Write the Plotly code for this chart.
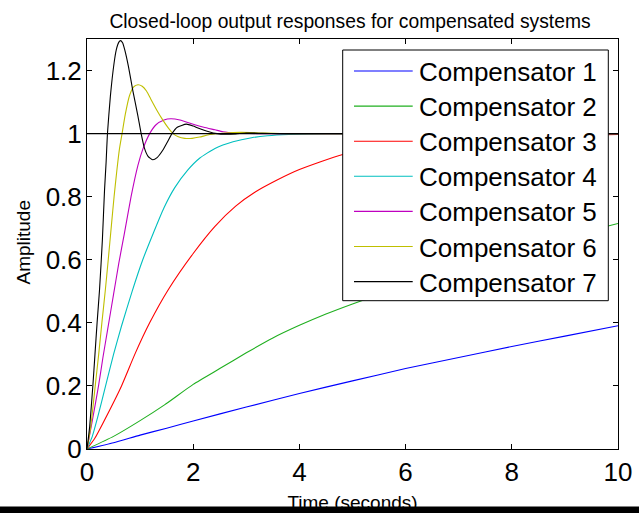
import plotly.graph_objects as go

# ---------------- data ----------------
x_ticks = [0, 2, 4, 6, 8, 10]
y_ticks = [0, 0.2, 0.4, 0.6, 0.8, 1.0, 1.2]
y_tick_labels = ["0", "0.2", "0.4", "0.6", "0.8", "1", "1.2"]

names = ["Compensator 1", "Compensator 2", "Compensator 3", "Compensator 4",
         "Compensator 5", "Compensator 6", "Compensator 7"]
colors = ["#0000FF", "#1FAF1F", "#FF0000", "#00BFBF", "#BF00BF", "#BFBF00", "#000000"]

t1 = [0, 0.5, 1, 1.5, 2, 3, 4, 5, 6, 7, 8, 9, 10]
y1 = [0, 0.02, 0.044, 0.066, 0.089, 0.133, 0.176, 0.216, 0.255, 0.29, 0.325, 0.358, 0.391]

t2 = [0, 0.5, 1, 1.46, 2, 2.5, 3, 3.5, 4, 4.5, 5, 5.5, 6, 7, 8, 9, 10]
y2 = [0, 0.04, 0.09, 0.14, 0.205, 0.255, 0.305, 0.352, 0.392, 0.428, 0.46, 0.49, 0.52, 0.575, 0.625, 0.672, 0.715]

t3 = [0, 0.15, 0.3, 0.65, 0.9, 1.18, 1.53, 2.0, 2.41, 2.8, 3.16, 3.57, 4.0, 4.8, 6, 8, 10]
y3 = [0, 0.035, 0.082, 0.2, 0.3, 0.4, 0.505, 0.62, 0.706, 0.77, 0.814, 0.852, 0.886, 0.933, 0.97, 0.99, 0.997]

t4 = [0, 0.1, 0.2, 0.35, 0.5, 0.65, 0.85, 1.05, 1.25, 1.45, 1.65, 1.9, 2.12, 2.41, 2.75, 3.1, 3.4, 3.8, 4.5, 10]
y4 = [0, 0.04, 0.1, 0.2, 0.3, 0.39, 0.5, 0.6, 0.685, 0.765, 0.828, 0.885, 0.922, 0.953, 0.974, 0.987, 0.993, 0.997, 1.0, 1.0]

t5 = [0, 0.1, 0.217, 0.3, 0.39, 0.5, 0.6, 0.7, 0.83, 0.96, 1.05, 1.18, 1.3, 1.45, 1.58, 1.75,
      2.03, 2.2, 2.41, 2.56, 2.8, 3.2, 10]
y5 = [0, 0.09, 0.2, 0.29, 0.38, 0.49, 0.59, 0.68, 0.8, 0.9, 0.95, 1.0, 1.028, 1.043, 1.047, 1.043,
      1.028, 1.02, 1.012, 1.006, 1.002, 1.0, 1.0]

t6 = [0, 0.07, 0.155, 0.22, 0.28, 0.343, 0.4, 0.46, 0.51, 0.56, 0.61, 0.66, 0.72, 0.8, 0.88, 0.96,
      1.04, 1.12, 1.2, 1.31, 1.42, 1.53, 1.62, 1.72, 1.84, 1.98, 2.12, 2.31, 2.6, 2.9, 3.3, 3.8, 10]
y6 = [0, 0.07, 0.2, 0.3, 0.4, 0.5, 0.6, 0.71, 0.8, 0.88, 0.95, 1.0, 1.06, 1.12, 1.148, 1.155,
      1.15, 1.135, 1.11, 1.076, 1.045, 1.018, 1.0, 0.99, 0.985, 0.985, 0.989, 0.997, 1.002, 1.004, 1.002, 1.0, 1.0]

t7 = [0, 0.05, 0.11, 0.15, 0.19, 0.236, 0.29, 0.33, 0.36, 0.385, 0.44, 0.51, 0.55, 0.6, 0.63, 0.67,
      0.71, 0.78, 0.86, 0.96, 1.02, 1.08, 1.15, 1.24, 1.32, 1.43, 1.53, 1.6, 1.7, 1.87, 2.0, 2.09,
      2.28, 2.45, 2.6, 2.8, 3.0, 3.3, 3.6, 10]
y7 = [0, 0.07, 0.2, 0.3, 0.4, 0.505, 0.664, 0.82, 0.91, 1.0, 1.118, 1.224, 1.265, 1.29, 1.295, 1.288,
      1.266, 1.213, 1.139, 1.055, 1.0, 0.955, 0.928, 0.917, 0.924, 0.948, 0.978, 1.0, 1.02, 1.03, 1.024, 1.018,
      1.007, 1.0, 0.998, 0.999, 1.002, 1.001, 1.0, 1.0]

ref_t = [0, 10]
ref_y = [1, 1]

series_t = [t1, t2, t3, t4, t5, t6, t7]
series_y = [y1, y2, y3, y4, y5, y6, y7]

# ---------------- figure ----------------
W, H = 639, 513
ML, MR, MT, MB = 87, 21, 39, 64
PW, PH = W - ML - MR, H - MT - MB

def px_x(p):
    return (p - ML) / PW

def px_y(p):
    return (H - MB - p) / PH

FONT = "Arial, 'Liberation Sans', sans-serif"

fig = go.Figure()
for t, y, c, n in zip(series_t, series_y, colors, names):
    fig.add_trace(go.Scatter(x=t, y=y, mode="lines", name=n,
                             line=dict(color=c, width=1.1, shape="spline", smoothing=0.5),
                             showlegend=False))
fig.add_trace(go.Scatter(x=ref_t, y=ref_y, mode="lines", name="Steady state",
                         line=dict(color="#000000", width=1.3), showlegend=False,
                         hoverinfo="skip"))

shapes = []
annotations = []

# legend box (MATLAB style)
shapes.append(dict(type="rect", xref="paper", yref="paper",
                   x0=px_x(342.7), x1=px_x(608.3), y0=px_y(300.7), y1=px_y(50),
                   fillcolor="white", line=dict(color="black", width=1), layer="above"))
row0, row_step = 71.0, 35.1
for i, (n, c) in enumerate(zip(names, colors)):
    yy = row0 + i * row_step
    shapes.append(dict(type="line", xref="paper", yref="paper",
                       x0=px_x(354), x1=px_x(412.7), y0=px_y(yy), y1=px_y(yy),
                       line=dict(color=c, width=1.1), layer="above"))
    annotations.append(dict(text=n, xref="paper", yref="paper", x=px_x(417), y=px_y(yy + 1),
                            xanchor="left", yanchor="middle", showarrow=False,
                            font=dict(family=FONT, size=26, color="black")))

# y-axis label placed like the MATLAB one
annotations.append(dict(text="Amplitude", xref="paper", yref="paper",
                        x=px_x(23), y=px_y(242.5), xanchor="center", yanchor="middle",
                        textangle=-90, showarrow=False,
                        font=dict(family=FONT, size=19, color="black")))

# black strip at the bottom edge of the image
shapes.append(dict(type="rect", xref="paper", yref="paper",
                   x0=px_x(-2), x1=px_x(W + 2), y0=px_y(H + 2), y1=px_y(506.5),
                   fillcolor="black", line=dict(width=0), layer="above"))

fig.update_layout(
    width=W, height=H,
    margin=dict(l=ML, r=MR, t=MT, b=MB, pad=0, autoexpand=False),
    paper_bgcolor="white", plot_bgcolor="white",
    font=dict(family=FONT, color="black"),
    title=dict(text="Closed-loop output responses for compensated systems",
               font=dict(family=FONT, size=19.3, color="black"),
               x=px_x(350), xref="paper", xanchor="center",
               y=1 - 21 / H, yref="container", yanchor="middle"),
    shapes=shapes, annotations=annotations, showlegend=False,
)
fig.update_xaxes(range=[0, 10], tickvals=x_ticks, ticktext=[str(v) for v in x_ticks],
                 ticks="inside", ticklen=5, tickcolor="black", tickwidth=1,
                 showline=True, linecolor="black", linewidth=1, mirror="ticks",
                 showgrid=False, zeroline=False, automargin=False,
                 tickfont=dict(family=FONT, size=26, color="black"),
                 title=dict(text="Time (seconds)", font=dict(family=FONT, size=19, color="black"),
                            standoff=9))
fig.update_yaxes(range=[0, 1.3], tickvals=y_ticks, ticktext=y_tick_labels,
                 ticks="inside", ticklen=5, tickcolor="black", tickwidth=1,
                 showline=True, linecolor="black", linewidth=1, mirror="ticks",
                 showgrid=False, zeroline=False, ticklabelstandoff=-1, automargin=False,
                 tickfont=dict(family=FONT, size=26, color="black"))

fig.write_html("out.html", config={"displayModeBar": False},
               post_script="document.body.style.margin='0px';")
